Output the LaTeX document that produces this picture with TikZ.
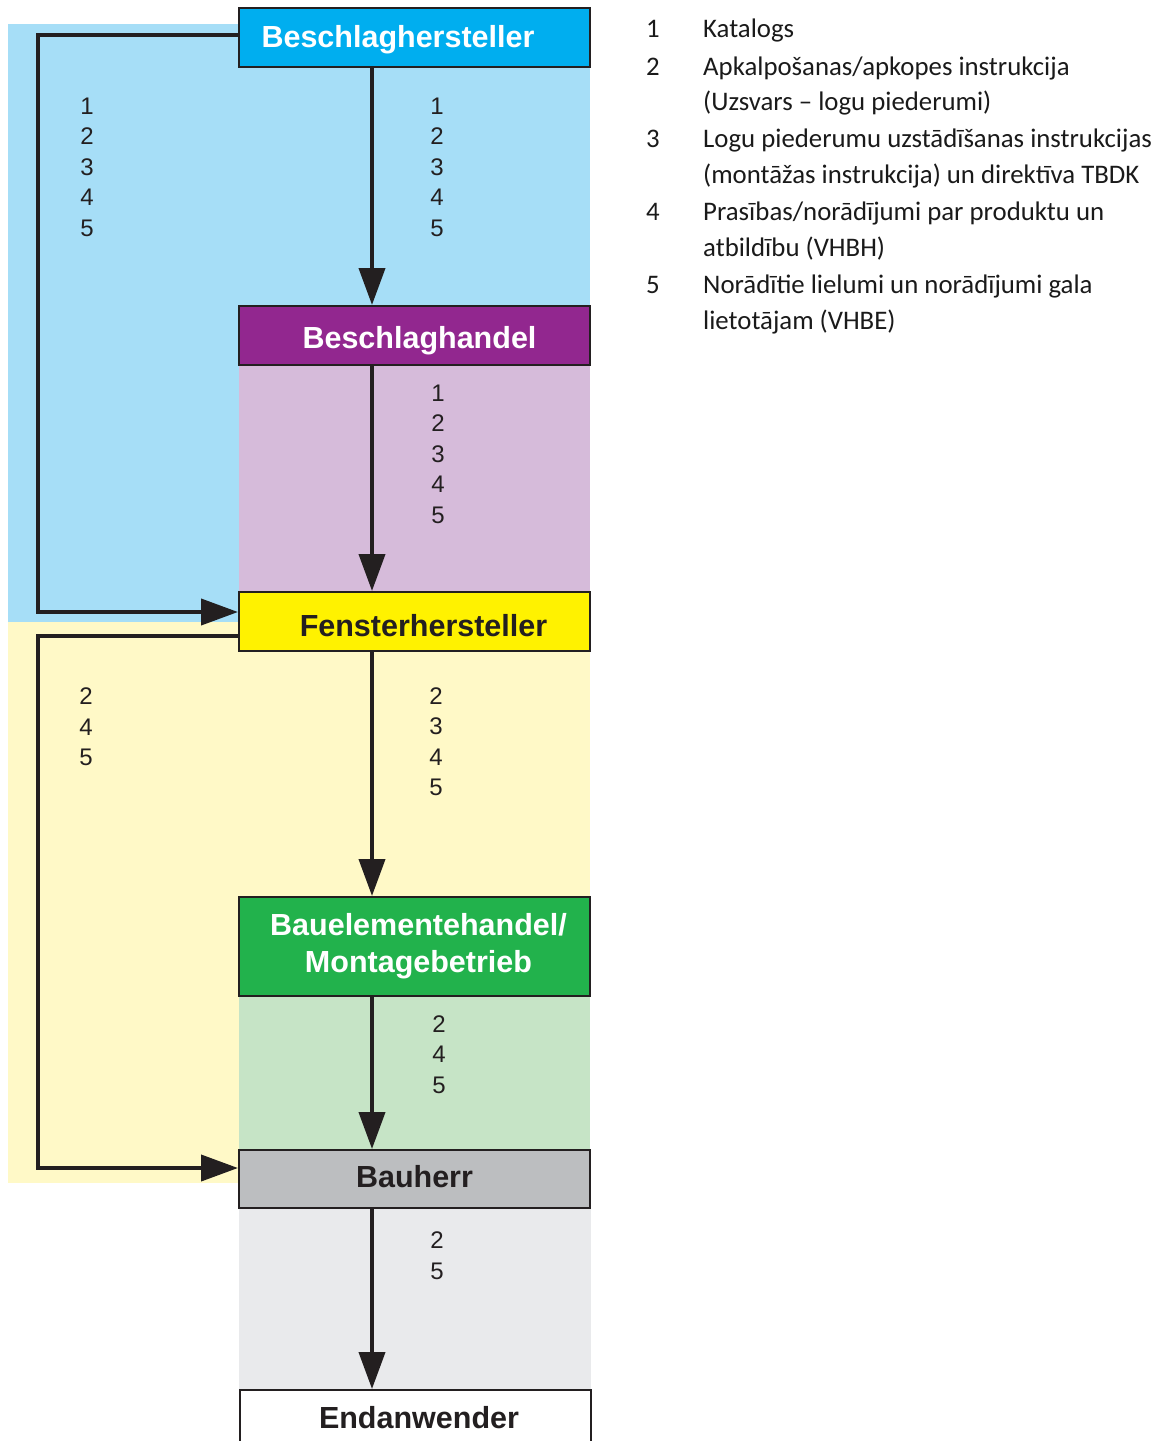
\documentclass[tikz,border=0pt]{standalone}
\usepackage{fontspec}
\setmainfont{Liberation Sans}
\newfontfamily\legendfont{Carlito}
\usetikzlibrary{arrows.meta,calc}
\definecolor{outl}{HTML}{231F20}
\definecolor{cyanbox}{HTML}{00AEEF}
\definecolor{lblue}{HTML}{A6DEF7}
\definecolor{purplebox}{HTML}{92278F}
\definecolor{lpurple}{HTML}{D6BBDA}
\definecolor{yellowbox}{HTML}{FFF200}
\definecolor{lyellow}{HTML}{FFF9C7}
\definecolor{greenbox}{HTML}{22B24C}
\definecolor{lgreen}{HTML}{C6E4C6}
\definecolor{graybox}{HTML}{BCBEC0}
\definecolor{lgray}{HTML}{E9EAEC}
\definecolor{legtext}{HTML}{1A1A1A}
\begin{document}
\begin{tikzpicture}[x=1pt,y=-1pt,
  box/.style={draw=outl, line width=2pt, minimum width=351pt, minimum height=59pt,
    inner sep=0pt, align=center, font=\fontsize{30.5}{37}\selectfont\bfseries},
  arr/.style={draw=outl, line width=4pt, -{Triangle[length=37pt,width=26pt]}},
  nums/.style={font=\fontsize{24}{30.5}\selectfont, align=center, text=outl, inner sep=0pt},
  legnum/.style={font=\legendfont\fontsize{26.8}{30}\selectfont, anchor=base west, inner sep=0pt, text=legtext},
  legtxt/.style={font=\legendfont\fontsize{26.8}{30}\selectfont, anchor=base west, inner sep=0pt, text=legtext}
]
\useasboundingbox (0,0) rectangle (1163,1441);
% backgrounds
\fill[lblue] (8,24) rectangle (239,622);
\fill[lblue] (239,67) rectangle (590,306);
\fill[lpurple] (239,365) rectangle (590,592);
\fill[lyellow] (8,622) rectangle (239,1183);
\fill[lyellow] (239,651) rectangle (590,897);
\fill[lgreen] (239,996) rectangle (590,1150);
\fill[lgray] (239,1208) rectangle (591,1390);
% boxes
\node[box, fill=cyanbox, text=white, text height=22pt, text depth=2.7pt] (b1) at (414.5,37.5) {\hspace*{-33pt}Beschlaghersteller};
\node[box, fill=purplebox, text=white, text height=25.3pt, text depth=0pt] (b2) at (414.5,335.5) {\hspace*{10pt}Beschlaghandel};
\node[box, fill=yellowbox, text=outl, text height=29pt, text depth=0pt] (b3) at (414.5,621.5) {\hspace*{18pt}Fensterhersteller};
\node[box, fill=greenbox, text=white, minimum height=99pt] (b4) at (414.5,946.5) {\hspace*{8pt}Bauelementehandel/\\\hspace*{8pt}Montagebetrieb};
\node[box, fill=graybox, text=outl, minimum height=58pt, text height=22pt, text depth=6pt] (b5) at (414.5,1179) {Bauherr};
\node[box, fill=white, text=outl, text height=22pt, text depth=5pt] (b6) at (415.5,1419.5) {\hspace*{7pt}Endanwender};
% vertical arrows
\draw[arr] ([xshift=-42.5pt]b1.south) -- ([xshift=-42.5pt]b2.north);
\draw[arr] ([xshift=-42.5pt]b2.south) -- ([xshift=-42.5pt]b3.north);
\draw[arr] ([xshift=-42.5pt]b3.south) -- ([xshift=-42.5pt]b4.north);
\draw[arr] ([xshift=-42.5pt]b4.south) -- ([xshift=-42.5pt]b5.north);
\draw[arr] ([xshift=-42.5pt]b5.south) -- ([xshift=-43.5pt]b6.north);
% side connectors
\draw[arr] ([yshift=2.5pt]b1.west) -- ++(-200,0) |- ([yshift=9.5pt]b3.west);
\draw[arr] ([yshift=-14.5pt]b3.west) -- ++(-200,0) |- ([yshift=11pt]b5.west);
% number labels
\node[nums] (n1) at (87,167) {1\\2\\3\\4\\5};
\node[nums] (n2) at (437,167) {1\\2\\3\\4\\5};
\node[nums] (n3) at (438,454) {1\\2\\3\\4\\5};
\node[nums] (n4) at (86,727) {2\\4\\5};
\node[nums] (n5) at (436,741.5) {2\\3\\4\\5};
\node[nums] (n6) at (439,1054.5) {2\\4\\5};
\node[nums] (n7) at (437,1255.5) {2\\5};
% legend
\node[legnum] (k1) at (646,37) {1};
\node[legtxt] (t1) at (703,37) {Katalogs};
\node[legnum] (k2) at (646,75) {2};
\node[legtxt] (t2a) at (703,75) {Apkalpošanas/apkopes instrukcija};
\node[legtxt] (t2b) at (703,110) {(Uzsvars – logu piederumi)};
\node[legnum] (k3) at (646,147) {3};
\node[legtxt] (t3a) at (703,147) {Logu piederumu uzstādīšanas instrukcijas};
\node[legtxt] (t3b) at (703,183) {(montāžas instrukcija) un direktīva TBDK};
\node[legnum] (k4) at (646,220) {4};
\node[legtxt] (t4a) at (703,220) {Prasības/norādījumi par produktu un};
\node[legtxt] (t4b) at (703,256) {atbildību (VHBH)};
\node[legnum] (k5) at (646,293) {5};
\node[legtxt] (t5a) at (703,293) {Norādītie lielumi un norādījumi gala};
\node[legtxt] (t5b) at (703,329) {lietotājam (VHBE)};
\end{tikzpicture}
\end{document}
